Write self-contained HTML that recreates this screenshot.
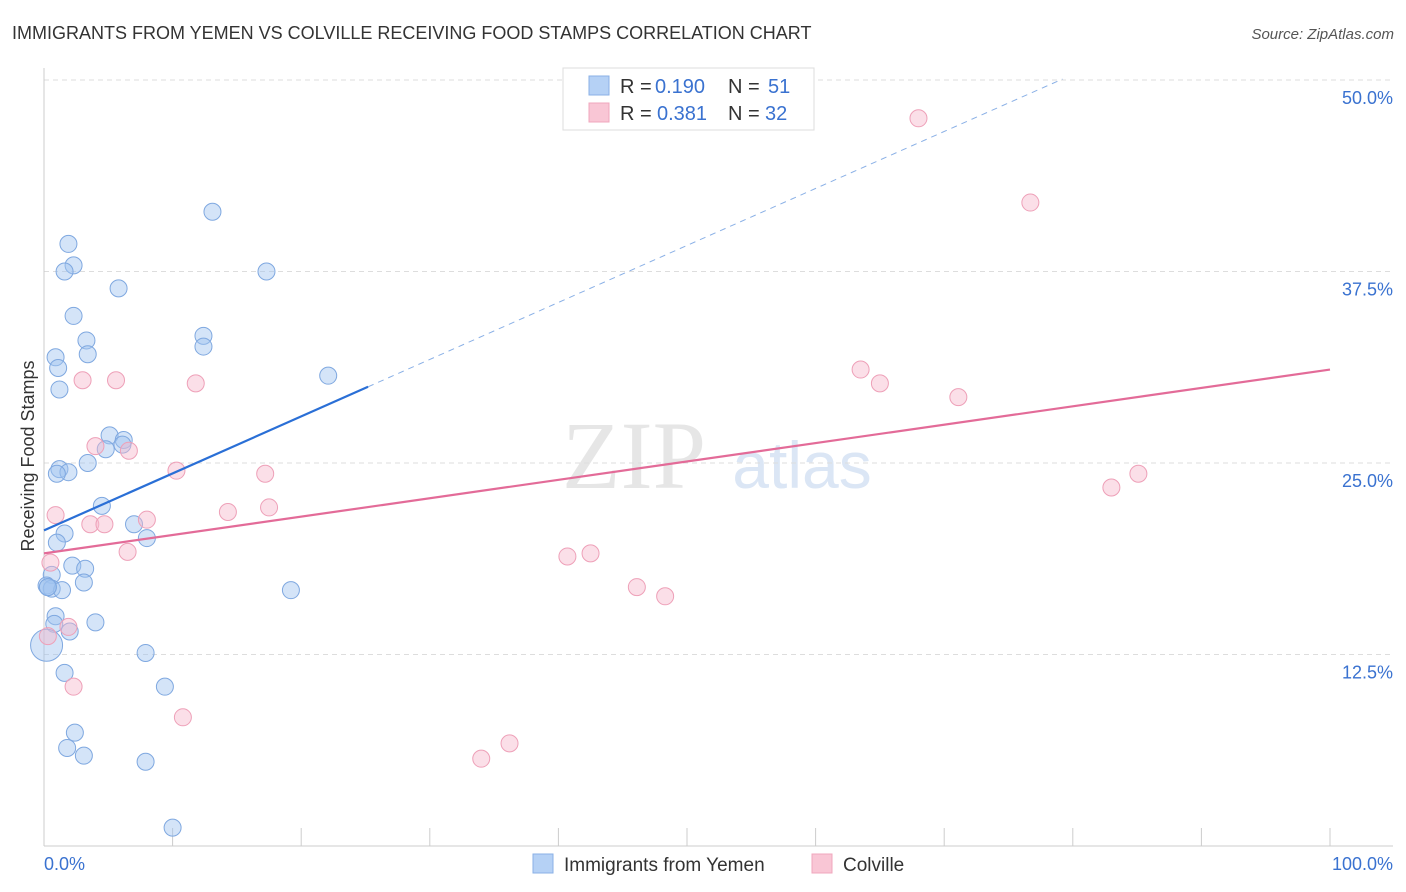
<!DOCTYPE html>
<html><head><meta charset="utf-8"><style>
body{margin:0;background:#fff;font-family:"Liberation Sans",sans-serif;}
svg{display:block}
</style></head><body>
<svg id="chart" width="1406" height="892" xmlns="http://www.w3.org/2000/svg">
<text x="12" y="39" font-size="18" fill="#333">IMMIGRANTS FROM YEMEN VS COLVILLE RECEIVING FOOD STAMPS CORRELATION CHART</text>
<text x="1394" y="39" font-size="15" fill="#555" font-style="italic" text-anchor="end">Source: ZipAtlas.com</text>
<text x="634" y="488" font-size="96" fill="#e6e6e6" font-family="Liberation Serif,serif" text-anchor="middle">ZIP</text>
<text x="802" y="488" font-size="66" fill="#dbe6f5" text-anchor="middle">atlas</text>
<g id="grid"></g>
<g id="axes"></g>
<g id="marks"></g>
<text transform="translate(34,456) rotate(-90)" font-size="18" fill="#333" text-anchor="middle">Receiving Food Stamps</text>
<g>
<rect x="563" y="68" width="251" height="62" fill="#fff" stroke="#ddd"/>
<rect x="589" y="76" width="20" height="19" fill="#b5d1f5" stroke="#8ab0e6"/>
<rect x="589" y="103" width="20" height="19" fill="#f9c6d5" stroke="#f0a7bd"/>
<text x="620" y="93" font-size="20" fill="#333">R =</text>
<text x="655" y="93" font-size="20" fill="#3a72d0">0.190</text>
<text x="728" y="93" font-size="20" fill="#333">N =</text>
<text x="768" y="93" font-size="20" fill="#3a72d0">51</text>
<text x="620" y="120" font-size="20" fill="#333">R =</text>
<text x="657" y="120" font-size="20" fill="#3a72d0">0.381</text>
<text x="728" y="120" font-size="20" fill="#333">N =</text>
<text x="765" y="120" font-size="20" fill="#3a72d0">32</text>
</g>
<g>
<rect x="533" y="854" width="20" height="19" fill="#b5d1f5" stroke="#8ab0e6"/>
<text x="564" y="871" font-size="19" fill="#333">Immigrants from Yemen</text>
<rect x="812" y="854" width="20" height="19" fill="#f9c6d5" stroke="#f0a7bd"/>
<text x="843" y="871" font-size="19" fill="#333">Colville</text>
</g>
</svg>
<script>
const yTicks=[12.5,25,37.5,50];
const yTickLabels=["12.5%","25.0%","37.5%","50.0%"];
const xTickVals=[10,20,30,40,50,60,70,80,90,100];
const blueX=[13.1,1.9,2.3,1.6,17.3,5.8,2.3,3.3,12.4,12.4,3.4,0.9,1.1,22.1,1.2,5.1,6.2,6.1,4.8,3.4,1.2,1.9,1.0,4.5,7.0,1.6,8.0,1.0,2.2,3.2,0.6,3.1,0.2,0.6,1.4,0.3,19.2,0.9,0.8,4.0,2.0,7.9,0.2,1.6,9.4,2.4,1.8,3.1,7.9,10.0,0.3];
const blueY=[41.4,39.3,37.9,37.5,37.5,36.4,34.6,33.0,33.3,32.6,32.1,31.9,31.2,30.7,29.8,26.8,26.5,26.2,25.9,25.0,24.6,24.4,24.3,22.2,21.0,20.4,20.1,19.8,18.3,18.1,17.7,17.2,17.0,16.8,16.7,16.9,16.7,15.0,14.5,14.6,14.0,12.6,13.1,11.3,10.4,7.4,6.4,5.9,5.5,1.2,16.9];
const pinkX=[68.0,76.7,63.5,65.0,71.1,5.6,3.0,11.8,4.0,6.6,10.3,17.2,85.1,83.0,0.9,17.5,14.3,8.0,3.6,4.7,6.5,40.7,42.5,46.1,48.3,1.9,0.3,2.3,10.8,36.2,34.0,0.5];
const pinkY=[47.5,42.0,31.1,30.2,29.3,30.4,30.4,30.2,26.1,25.8,24.5,24.3,24.3,23.4,21.6,22.1,21.8,21.3,21.0,21.0,19.2,18.9,19.1,16.9,16.3,14.3,13.7,10.4,8.4,6.7,5.7,18.5];
const blueTrend=[20.6,0.372,25.2,79.2];
const pinkTrend=[19.1,31.1];
const X0=44,X1=1330,Y0=846,PY=15.32;
const sx=v=>X0+(X1-X0)*v/100, sy=v=>Y0-v*PY;
const NS="http://www.w3.org/2000/svg";
function mk(p,t,a){const e=document.createElementNS(NS,t);for(const k in a)e.setAttribute(k,a[k]);document.getElementById(p).appendChild(e);return e;}
yTicks.forEach((t,i)=>{
 const l=mk('grid','line',{x1:44,x2:1393,y1:sy(t),y2:sy(t),stroke:'#ddd','stroke-dasharray':'5,4'});
 
 
 const tx=mk('grid','text',{x:1393,y:sy(t)+24,'font-size':18,fill:'#3a72d0','text-anchor':'end'});
 tx.textContent=yTickLabels[i];
 
 
});
let a=mk('axes','line',{x1:44,x2:1393,y1:Y0,y2:Y0,stroke:'#ccc'});


a=mk('axes','line',{x1:44,x2:44,y1:68,y2:Y0,stroke:'#ccc'});


xTickVals.forEach(v=>{const t=mk('axes','line',{x1:sx(v),x2:sx(v),y1:828,y2:Y0,stroke:'#ccc'});
 
 });
let t=mk('axes','text',{x:44,y:870,'font-size':18,fill:'#3a72d0'});t.textContent='0.0%';


t=mk('axes','text',{x:1393,y:870,'font-size':18,fill:'#3a72d0','text-anchor':'end'});t.textContent='100.0%';


blueX.forEach((x,i)=>{const c=mk('marks','circle',{cx:sx(x),cy:sy(blueY[i]),r:(i===42?16:8.5),fill:'rgba(160,196,240,0.45)',stroke:'#7fa8e0','stroke-width':1});
 
 });
pinkX.forEach((x,i)=>{const c=mk('marks','circle',{cx:sx(x),cy:sy(pinkY[i]),r:8.5,fill:'rgba(246,184,203,0.45)',stroke:'#eea0b8','stroke-width':1});
 
 });
const bf=x=>blueTrend[0]+blueTrend[1]*x;
let l=mk('marks','line',{x1:sx(0),y1:sy(bf(0)),x2:sx(blueTrend[2]),y2:sy(bf(blueTrend[2])),stroke:'#2a6fd6','stroke-width':2.2});


l=mk('marks','line',{x1:sx(blueTrend[2]),y1:sy(bf(blueTrend[2])),x2:sx(blueTrend[3]),y2:sy(bf(blueTrend[3])),stroke:'#8ab0e6','stroke-width':1,'stroke-dasharray':'6,5'});


l=mk('marks','line',{x1:sx(0),y1:sy(pinkTrend[0]),x2:sx(100),y2:sy(pinkTrend[1]),stroke:'#e36b98','stroke-width':2.2});


</script>
</body></html>
